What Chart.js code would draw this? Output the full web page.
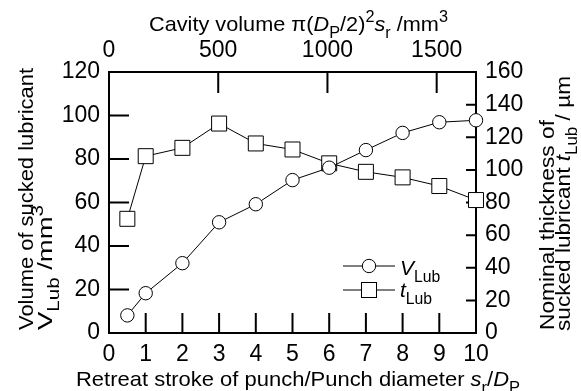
<!DOCTYPE html>
<html><head><meta charset="utf-8">
<script src="https://cdn.jsdelivr.net/npm/chart.js@4"></script>
<style>html,body{margin:0;padding:0;background:#fff}#wrap{width:581px;height:391px}</style>
</head><body><div id="wrap"><canvas id="c" width="581" height="391"></canvas></div>
<script>
// ---- data ----
const strokeRatio = [0.5, 1, 2, 3, 4, 5, 6, 7, 8, 9, 10];
const vLub = [8.1, 18.3, 32.1, 50.9, 59.2, 70.3, 76.0, 84.1, 92.0, 96.9, 97.8];
const tLub = [70, 108.4, 113.5, 128.4, 116.2, 112.5, 104, 98.8, 95.4, 90.1, 81.5];
const bottomTickValues = [0, 1, 2, 3, 4, 5, 6, 7, 8, 9, 10];
const topTickValues = [0, 500, 1000, 1500];
const leftTickValues = [0, 20, 40, 60, 80, 100, 120];
const rightTickValues = [0, 20, 40, 60, 80, 100, 120, 140, 160];
const cavityMax = 1680;

const FONT = "'Liberation Sans', Arial, sans-serif";

function partFont(p, size) {
  const s = (p.sub || p.sup) ? size * 0.75 : size;
  return (p.i ? 'italic ' : '') + s + 'px ' + FONT;
}
function richWidth(ctx, parts, size) {
  let w = 0;
  for (const p of parts) { ctx.font = partFont(p, size); w += ctx.measureText(p.t).width; }
  return w;
}
function drawRich(ctx, parts, x, y, size, rot, len) {
  ctx.save();
  ctx.translate(x, y);
  if (rot) ctx.rotate(rot);
  const w = richWidth(ctx, parts, size);
  const sx = len ? len / w : 1;
  ctx.scale(sx, 1);
  ctx.textBaseline = 'alphabetic';
  ctx.textAlign = 'left';
  ctx.fillStyle = '#000';
  let cx = 0;
  for (const p of parts) {
    ctx.font = partFont(p, size);
    const dy = p.sub ? size * 0.33 : (p.sup ? -size * 0.45 : 0);
    ctx.fillText(p.t, cx, dy);
    cx += ctx.measureText(p.t).width;
  }
  ctx.restore();
}

const framePlugin = {
  id: 'frame',
  beforeDatasetsDraw(chart) {
    const ctx = chart.ctx;
    const {x, x2, y, y2} = chart.scales;
    const L = x.getPixelForValue(0), R = x.getPixelForValue(10);
    const T = y.getPixelForValue(120), B = y.getPixelForValue(0);
    ctx.save();
    ctx.strokeStyle = '#000';
    ctx.lineWidth = 2;
    ctx.beginPath();
    bottomTickValues.slice(1, -1).forEach(v => {
      const px = x.getPixelForValue(v); ctx.moveTo(px, B); ctx.lineTo(px, B - 20);
    });
    topTickValues.filter(v => v > 0).forEach(v => {
      const px = x2.getPixelForValue(v); ctx.moveTo(px, T); ctx.lineTo(px, T + 21);
    });
    leftTickValues.slice(1, -1).forEach(v => {
      const py = y.getPixelForValue(v); ctx.moveTo(L, py); ctx.lineTo(L + 20, py);
    });
    rightTickValues.slice(1, -1).forEach(v => {
      const py = y2.getPixelForValue(v); ctx.moveTo(R, py); ctx.lineTo(R - 10, py);
    });
    ctx.stroke();
    ctx.strokeRect(L, T, R - L, B - T);
    ctx.restore();
  }
};

const textPlugin = {
  id: 'texts',
  afterDraw(chart) {
    const ctx = chart.ctx;
    const S = 21;
    // top title
    drawRich(ctx, [{t:'Cavity volume \u03c0('},{t:'D',i:true},{t:'P',sub:true},{t:'/2)'},{t:'2',sup:true},{t:'s',i:true},{t:'r',sub:true},{t:' /mm'},{t:'3',sup:true}], 149, 31, S, 0, 299);
    // bottom title
    drawRich(ctx, [{t:'Retreat stroke of punch/Punch diameter '},{t:'s',i:true},{t:'r',sub:true},{t:'/'},{t:'D',i:true},{t:'P',sub:true}], 76, 386, S, 0, 444);
    // left title
    drawRich(ctx, [{t:'Volume of sucked lubricant'}], 33, 330, S, -Math.PI/2, 262);
    drawRich(ctx, [{t:'V'},{t:'Lub',sub:true},{t:' /mm'},{t:'3',sup:true}], 52, 330, S, -Math.PI/2, 125);
    // right title
    drawRich(ctx, [{t:'Nominal thickness of'}], 554, 330, S, -Math.PI/2, 210);
    drawRich(ctx, [{t:'sucked lubricant '},{t:'t',i:true},{t:'Lub',sub:true},{t:' / \u00b5m'}], 570, 331, S, -Math.PI/2, 255);

    // legend
    ctx.save();
    ctx.strokeStyle = '#000';
    ctx.lineWidth = 1;
    ctx.beginPath();
    ctx.moveTo(343, 266); ctx.lineTo(395, 266);
    ctx.moveTo(343, 290); ctx.lineTo(395, 290);
    ctx.stroke();
    ctx.fillStyle = '#fff';
    ctx.beginPath(); ctx.arc(369, 266, 6.7, 0, Math.PI * 2); ctx.fill(); ctx.stroke();
    ctx.fillRect(361.5, 282.5, 15, 15); ctx.strokeRect(361.5, 282.5, 15, 15);
    ctx.restore();
    drawRich(ctx, [{t:'V',i:true},{t:'Lub',sub:true}], 400, 275, 21, 0, 0);
    drawRich(ctx, [{t:'t',i:true},{t:'Lub',sub:true}], 400, 297, 21, 0, 0);
  }
};

const tickFont = {family: FONT, size: 23};
const gridOff = {display: false, drawTicks: false};
const borderOff = {display: false};
const plain = v => String(v);

new Chart(document.getElementById('c'), {
  type: 'line',
  data: {
    datasets: [
      {
        label: 'V_Lub',
        data: strokeRatio.map((v, i) => ({x: v, y: vLub[i]})),
        xAxisID: 'x', yAxisID: 'y',
        borderColor: '#000', borderWidth: 1,
        pointStyle: 'circle', pointRadius: 6.7,
        pointBackgroundColor: '#fff', pointBorderColor: '#000', pointBorderWidth: 1,
        tension: 0, clip: false
      },
      {
        label: 't_Lub',
        data: strokeRatio.map((v, i) => ({x: v, y: tLub[i]})),
        xAxisID: 'x', yAxisID: 'y2',
        borderColor: '#000', borderWidth: 1,
        pointStyle: 'rect', pointRadius: 10.6,
        pointBackgroundColor: '#fff', pointBorderColor: '#000', pointBorderWidth: 1,
        tension: 0, clip: false
      }
    ]
  },
  options: {
    responsive: false, animation: false, devicePixelRatio: 1,
    events: [],
    layout: {padding: 0},
    plugins: {legend: {display: false}, tooltip: {enabled: false}},
    scales: {
      x: {
        type: 'linear', position: 'bottom', min: 0, max: 10,
        afterBuildTicks: s => { s.ticks = bottomTickValues.map(v => ({value: v})); },
        ticks: {font: tickFont, color: '#000', padding: 8, maxRotation: 0, autoSkip: false, callback: plain},
        grid: gridOff, border: borderOff,
        afterFit: s => { s.height = 58; }
      },
      x2: {
        type: 'linear', position: 'top', min: 0, max: cavityMax,
        afterBuildTicks: s => { s.ticks = topTickValues.map(v => ({value: v})); },
        ticks: {font: tickFont, color: '#000', padding: 8, maxRotation: 0, autoSkip: false, callback: plain},
        grid: gridOff, border: borderOff,
        afterFit: s => { s.height = 72; }
      },
      y: {
        type: 'linear', position: 'left', min: 0, max: 120,
        afterBuildTicks: s => { s.ticks = leftTickValues.map(v => ({value: v})); },
        ticks: {font: tickFont, color: '#000', padding: 9, autoSkip: false, callback: plain},
        grid: gridOff, border: borderOff,
        afterFit: s => { s.width = 109; }
      },
      y2: {
        type: 'linear', position: 'right', min: 0, max: 160,
        afterBuildTicks: s => { s.ticks = rightTickValues.map(v => ({value: v})); },
        ticks: {font: tickFont, color: '#000', padding: 9, autoSkip: false, callback: plain},
        grid: gridOff, border: borderOff,
        afterFit: s => { s.width = 105; }
      }
    }
  },
  plugins: [framePlugin, textPlugin]
});
</script>
</body></html>
